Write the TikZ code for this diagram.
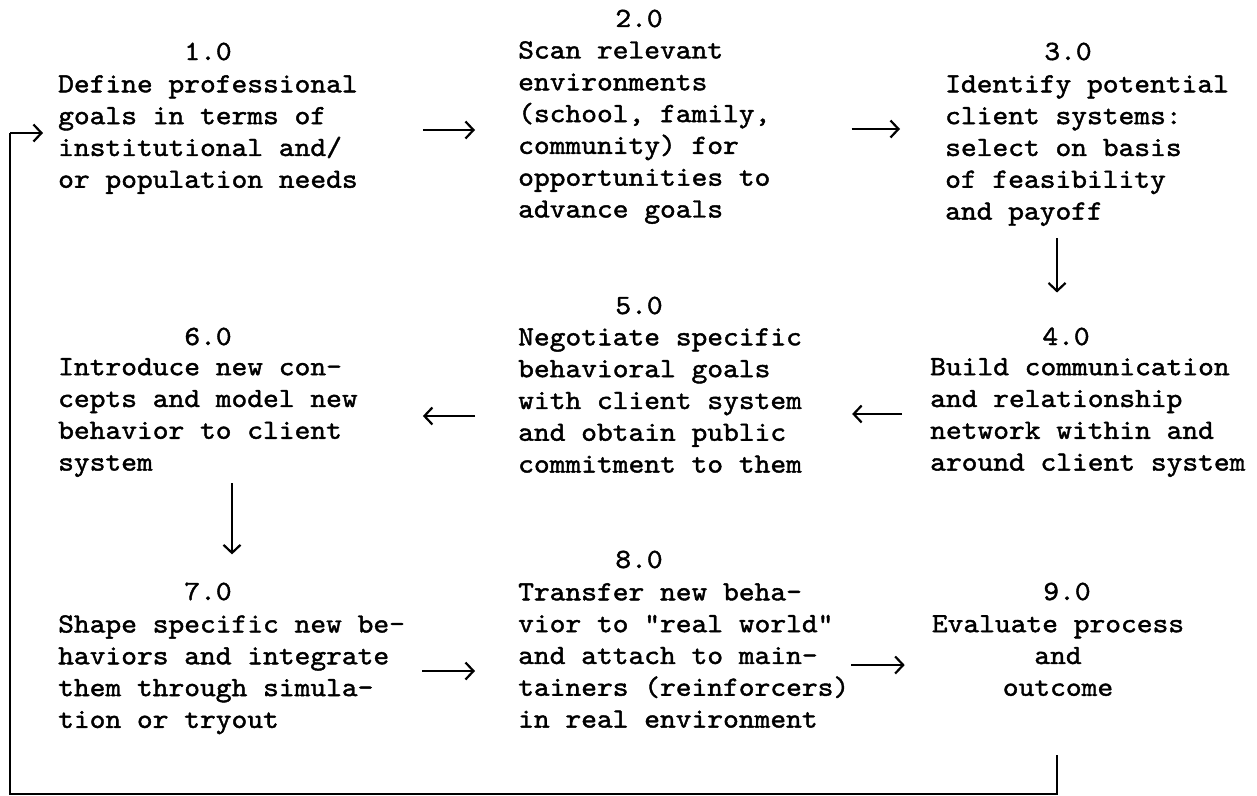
\documentclass[tikz,border=0pt]{standalone}
\usepackage{fontspec}
\usetikzlibrary{arrows.meta}
\newfontfamily\typew{lmmono10-regular.otf}[FakeStretch=1.08,FakeBold=1.5]
\tikzset{
  every node/.style={inner sep=0pt, font=\typew\fontsize{27.8}{31.8}\selectfont},
  body/.style={align=left, anchor=north west},
  bodyc/.style={align=center, anchor=north},
  num/.style={anchor=base},
  tip/.style={-{Straight Barb[length=8pt,width=17pt,line width=2.2pt]}},
  flow/.style={line width=2.4pt, tip},
  back/.style={line width=2.8pt},
}
\begin{document}
\begin{tikzpicture}[x=1pt,y=-1pt]
\useasboundingbox (0,0) rectangle (1257,795);

% step numbers
\node[num] (n1) at (208,60)   {1.0};
\node[num] (n2) at (639,27)   {2.0};
\node[num] (n3) at (1068,60)  {3.0};
\node[num] (n4) at (1066,345) {4.0};
\node[num] (n5) at (639,314)  {5.0};
\node[num] (n6) at (208,345)  {6.0};
\node[num] (n7) at (208,600)  {7.0};
\node[num] (n8) at (639,568)  {8.0};
\node[num] (n9) at (1067,600) {9.0};

% step descriptions
\node[body] (b1) at (58,75) {Define professional\\goals in terms of\\institutional and/\\or population needs};
\node[body] (b2) at (518,41) {Scan relevant\\environments\\(school, family,\\community) for\\opportunities to\\advance goals};
\node[body] (b3) at (945,75) {Identify potential\\client systems:\\select on basis\\of feasibility\\and payoff};
\node[body] (b4) at (930,358) {Build communication\\and relationship\\network within and\\around client system};
\node[body] (b5) at (518,328) {Negotiate specific\\behavioral goals\\with client system\\and obtain public\\commitment to them};
\node[body] (b6) at (58,358) {Introduce new con-\\cepts and model new\\behavior to client\\system};
\node[body] (b7) at (58,615) {Shape specific new be-\\haviors and integrate\\them through simula-\\tion or tryout};
\node[body] (b8) at (518,583) {Transfer new beha-\\vior to "real world"\\and attach to main-\\tainers (reinforcers)\\in real environment};
\node[bodyc] (b9) at (1058,615) {Evaluate process\\and\\outcome};

% forward flow
\draw[flow, shorten <=65pt, shorten >=43pt] (b1.east |- 0,130) -- (b2.west |- 0,130);
\draw[flow, shorten <=81pt, shorten >=45pt] (b2.east |- 0,129) -- (b3.west |- 0,129);
\draw[flow, shorten <=12pt, shorten >=35pt] (b3.south -| 1057,0) -- (n4.north -| 1057,0);
\draw[flow, shorten <=28pt, shorten >=50pt] (b4.west |- 0,414) -- (b5.east |- 0,414);
\draw[flow, shorten <=43pt, shorten >=65pt] (b5.west |- 0,416) -- (b6.east |- 0,416);
\draw[flow, shorten <=6pt, shorten >=28pt] (b6.south -| 232,0) -- (n7.north -| 232,0);
\draw[flow, shorten <=17pt, shorten >=43pt] (b7.east |- 0,671) -- (b8.west |- 0,671);
\draw[flow, shorten <=2pt, shorten >=27pt] (b8.east |- 0,665) -- (b9.west |- 0,665);

% feedback loop back to step 1
\draw[back, shorten <=59pt] (b9.south -| 1057,0) -- (1057,794) -- (10,794) -- (10,133);
\draw[flow, shorten >=15pt] (10,133) -- (b1.west |- 0,133);
\end{tikzpicture}
\end{document}
